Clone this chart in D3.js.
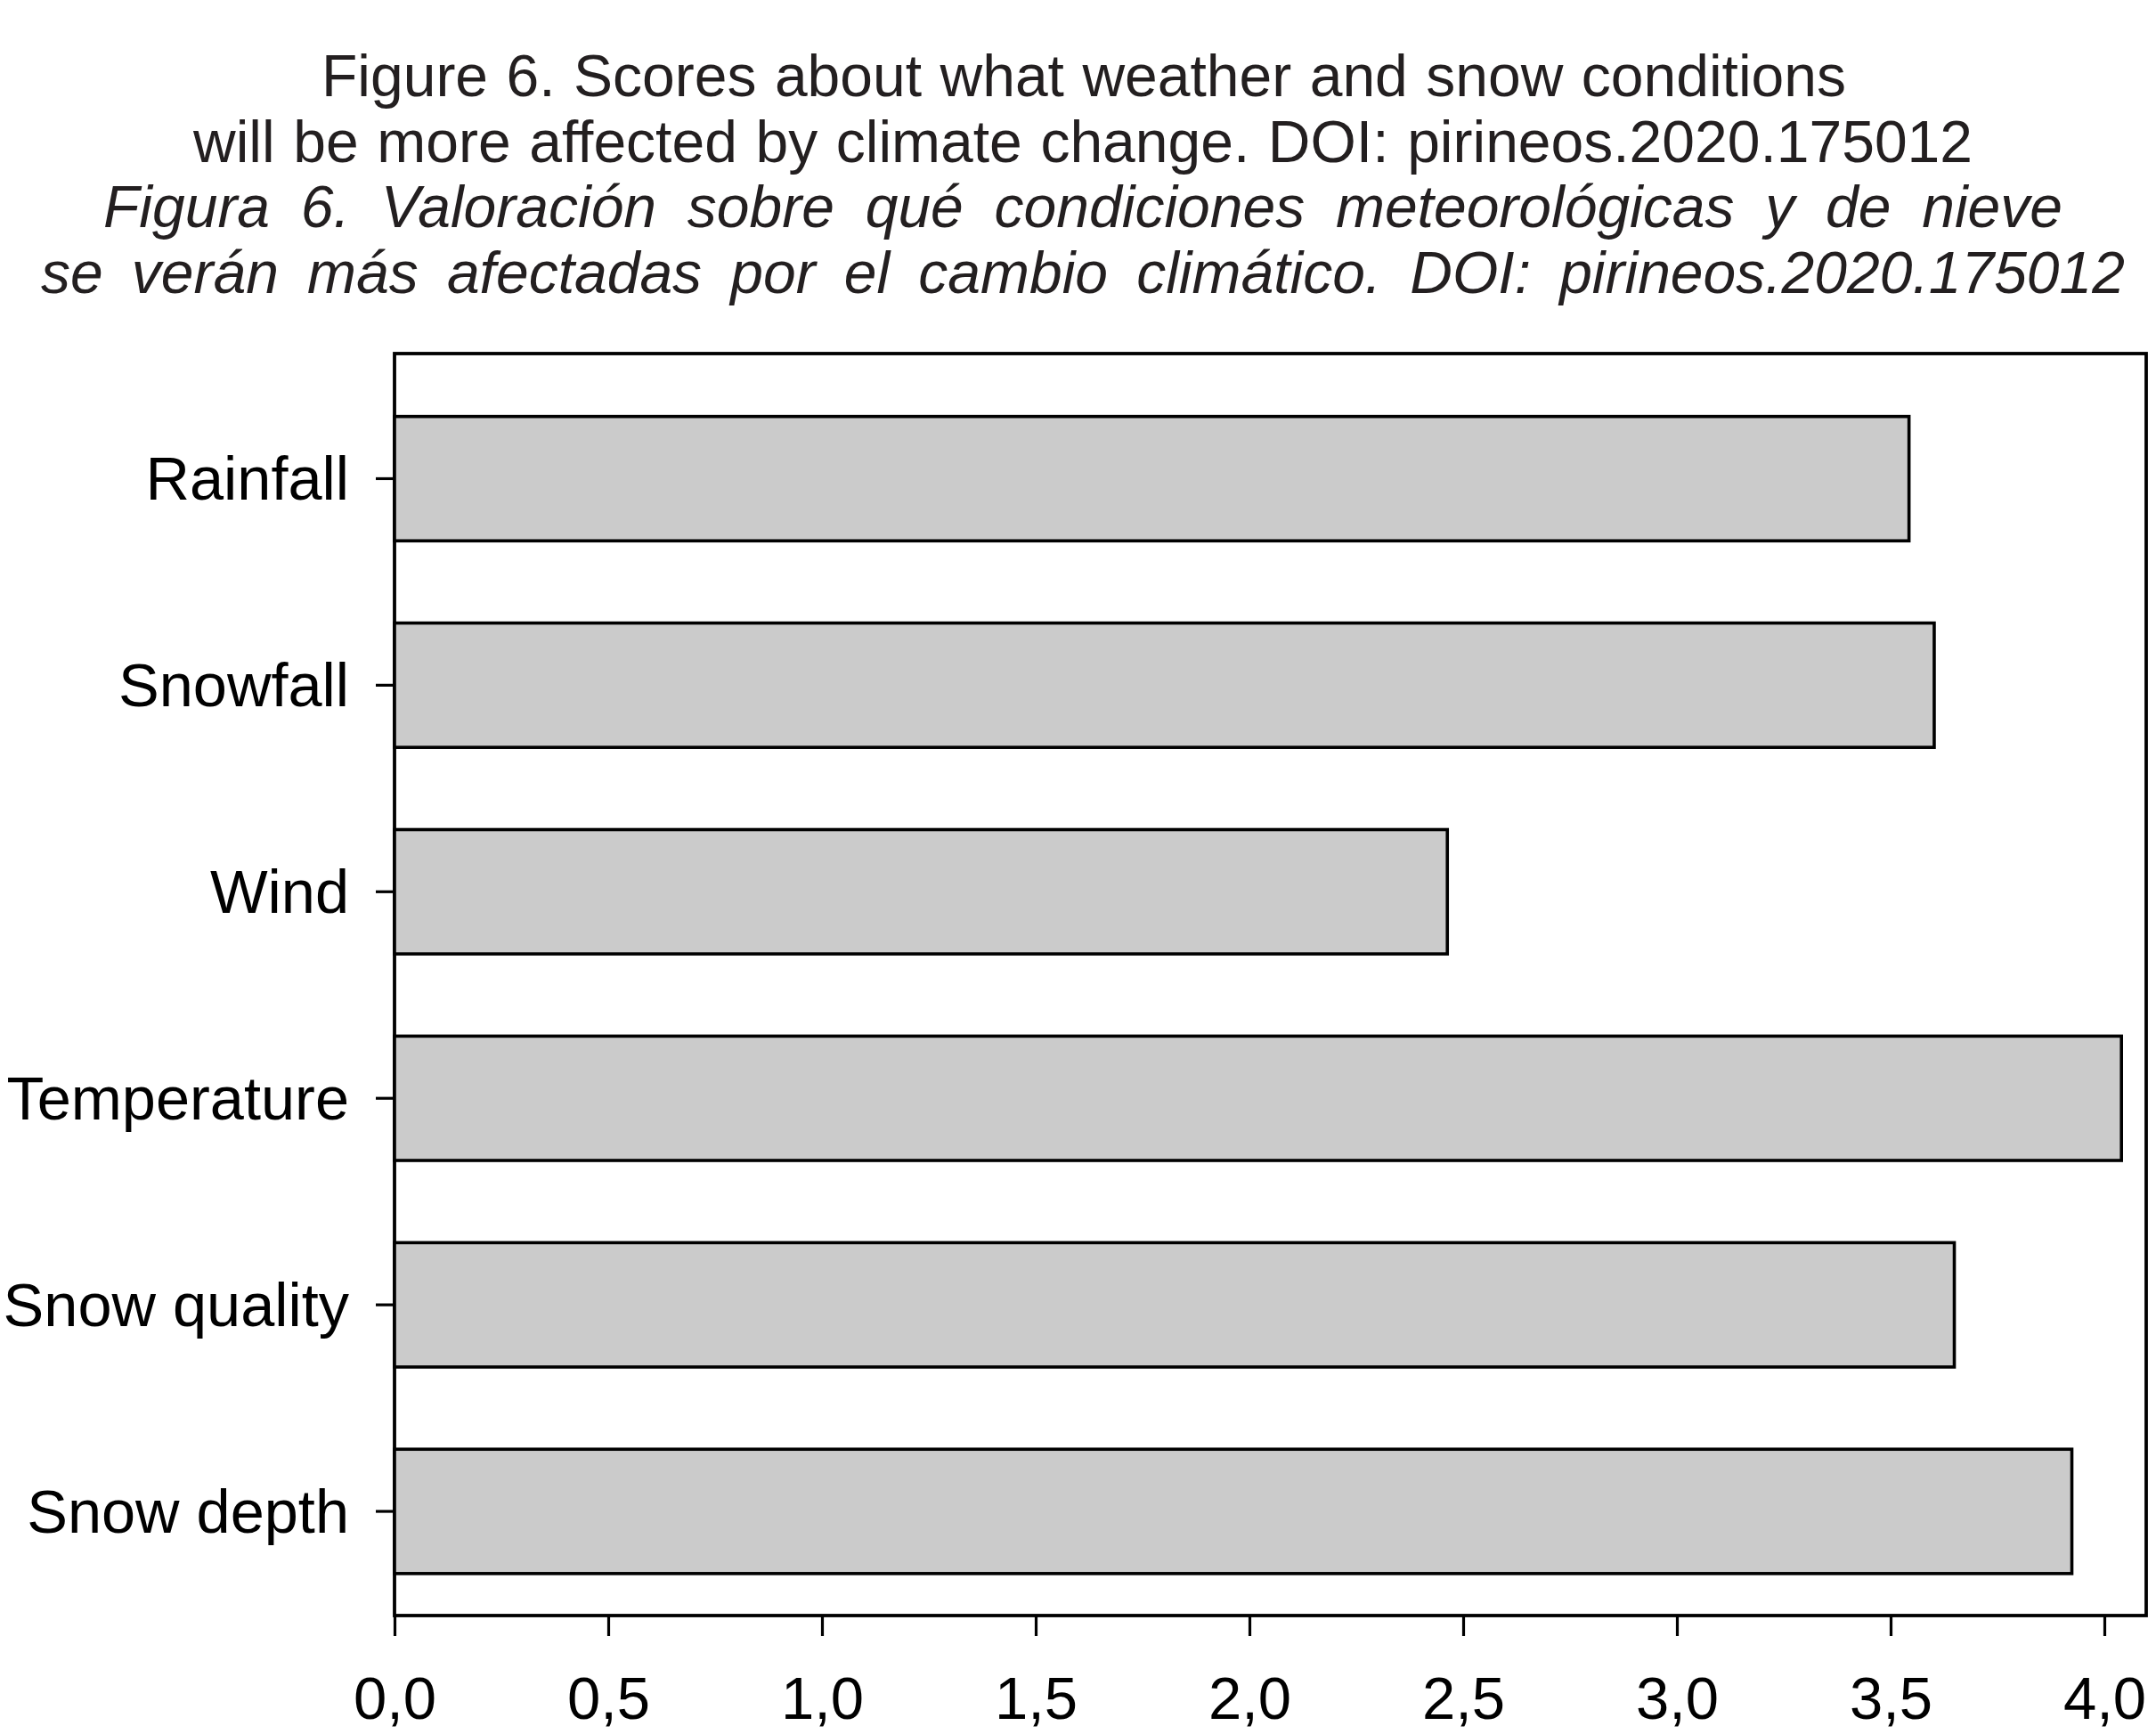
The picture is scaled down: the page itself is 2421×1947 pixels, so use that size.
<!DOCTYPE html>
<html>
<head>
<meta charset="utf-8">
<script src="https://cdn.jsdelivr.net/npm/d3@7"></script>
<style>
  body { margin: 0; background: #fff; }
  text { font-family: "Liberation Sans", Arial, sans-serif; }
</style>
</head>
<body>
<div id="chart"></div>
<script>
// chart data
const categories = ["Rainfall", "Snowfall", "Wind", "Temperature", "Snow quality", "Snow depth"];
const scores = [3.543, 3.602, 2.463, 4.040, 3.649, 3.924];
const xTicks = [0, 0.5, 1, 1.5, 2, 2.5, 3, 3.5, 4];
const titleLines = [
    "Figure 6. Scores about what weather and snow conditions",
    "will be more affected by climate change. DOI: pirineos.2020.175012",
    "Figura 6. Valoración sobre qué condiciones meteorológicas y de nieve",
    "se verán más afectadas por el cambio climático. DOI: pirineos.2020.175012"
];

document.addEventListener("DOMContentLoaded", function() {
    const svg = d3.select("#chart")
                  .append("svg")
                  .attr("width", 2421)
                  .attr("height", 1947);

    drawTitle(svg);
    drawBars(svg);
});

function drawTitle(svg) {
    // measured line extents in the reference (the spanish lines are justified)
    const lineBox = [
        {x: 361, w: 1712, y: 108, italic: false},
        {x: 217, w: 1998, y: 182, italic: false},
        {x: 116, w: 2200, y: 255, italic: true},
        {x: 46,  w: 2340, y: 329, italic: true}
    ];

    titleLines.forEach((line, i) => {
        const b = lineBox[i];
        const t = svg.append("text")
            .attr("x", b.x)
            .attr("y", b.y)
            .attr("font-size", 66)
            .attr("fill", "#231f20")
            .style("font-style", b.italic ? "italic" : "normal")
            .text(line);

        // spread the words so the line fills its width
        const natural = t.node().getComputedTextLength();
        const spaces = line.split(" ").length - 1;
        t.style("word-spacing", ((b.w - natural) / spaces) + "px");
    });
}

function drawBars(svg) {
    const frame = {left: 443, right: 2410, top: 397, bottom: 1814};

    const x = d3.scaleLinear()
        .domain([0, 4.1])
        .range([frame.left, frame.left + 4.1 * 480]);

    const y = d3.scaleBand()
        .domain(categories)
        .range([421.5, 1813])
        .paddingInner(0.398)
        .paddingOuter(0.199);

    const comma = d3.formatLocale({decimal: ",", thousands: ".", grouping: [3], currency: ["", ""]});

    // frame
    svg.append("rect")
       .attr("x", frame.left)
       .attr("y", frame.top)
       .attr("width", frame.right - frame.left)
       .attr("height", frame.bottom - frame.top)
       .attr("fill", "none")
       .attr("stroke", "#000")
       .attr("stroke-width", 3.8);

    svg.selectAll(".bar")
       .data(categories)
       .enter()
       .append("rect")
       .attr("class", "bar")
       .attr("x", x(0))
       .attr("y", d => y(d))
       .attr("width", (d, i) => x(scores[i]) - x(0))
       .attr("height", y.bandwidth())
       .attr("fill", "#cbcbcb")
       .attr("stroke", "#000")
       .attr("stroke-width", 3.6);

    const yAxis = svg.append("g")
       .attr("transform", `translate(${frame.left},0)`)
       .call(d3.axisLeft(y).tickSize(21).tickPadding(30).tickSizeOuter(0));
    yAxis.select(".domain").remove();
    yAxis.selectAll("line").attr("stroke-width", 3.2);
    yAxis.selectAll("text")
         .attr("font-size", 68.5)
         .attr("fill", "#000")
         .attr("dy", "0.35em")
         .style("font-family", "'Liberation Sans', Arial, sans-serif");

    const xAxis = svg.append("g")
       .attr("transform", `translate(0,${frame.bottom})`)
       .call(d3.axisBottom(x).tickValues(xTicks).tickSize(23).tickPadding(45)
               .tickFormat(comma.format(".1f")));
    xAxis.select(".domain").remove();
    xAxis.selectAll("line").attr("stroke-width", 3.2);
    xAxis.selectAll("text")
         .attr("font-size", 67)
         .attr("fill", "#000")
         .style("font-family", "'Liberation Sans', Arial, sans-serif");
}
</script>
</body>
</html>
